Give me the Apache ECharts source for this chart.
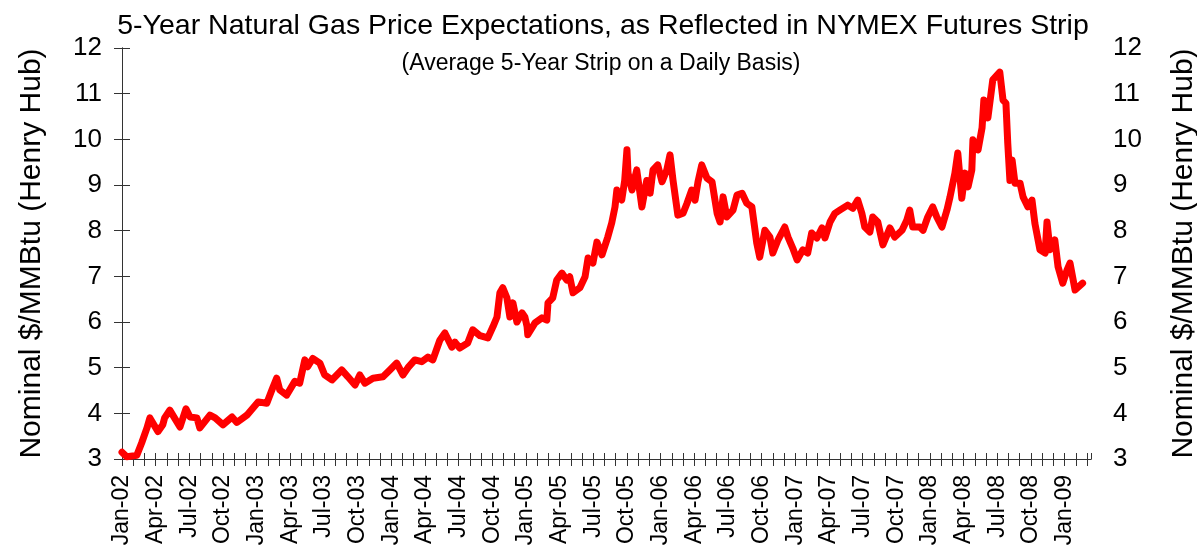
<!DOCTYPE html>
<html>
<head>
<meta charset="utf-8">
<script src="https://cdn.jsdelivr.net/npm/echarts@6/dist/echarts.min.js"></script>
<style>
  html, body { margin: 0; padding: 0; background: #fff; }
  #chart { width: 1197px; height: 548px; }
</style>
</head>
<body>
<div id="chart"></div>
<script>
// 5-year strip (roughly two points a month)
const dates = [
  '2002-01-01','2002-01-14','2002-02-10','2002-02-22','2002-03-08','2002-03-16','2002-04-07','2002-04-20','2002-04-25','2002-05-09',
  '2002-06-06','2002-06-22','2002-07-03','2002-07-22','2002-07-30','2002-08-27','2002-09-10','2002-10-01','2002-10-26','2002-11-08',
  '2002-12-05','2003-01-05','2003-01-29','2003-02-11','2003-02-23','2003-03-03','2003-03-22','2003-04-13','2003-04-26','2003-05-10',
  '2003-05-18','2003-06-01','2003-06-20','2003-07-03','2003-07-23','2003-08-19','2003-09-05','2003-09-24','2003-10-07','2003-10-21',
  '2003-11-12','2003-12-09','2003-12-28','2004-01-16','2004-02-02','2004-02-15','2004-03-04','2004-03-23','2004-04-09','2004-04-22',
  '2004-05-11','2004-05-25','2004-06-13','2004-06-21','2004-07-04','2004-07-26','2004-08-09','2004-08-29','2004-09-19','2004-10-03',
  '2004-10-14','2004-10-22','2004-10-30','2004-11-10','2004-11-18','2004-11-26','2004-12-07','2004-12-21','2004-12-29','2005-01-04',
  '2005-01-06','2005-01-26','2005-02-13','2005-02-25','2005-02-28','2005-03-13','2005-03-24','2005-04-07','2005-04-20','2005-04-28',
  '2005-05-07','2005-05-26','2005-06-09','2005-06-17','2005-06-30','2005-07-11','2005-07-25','2005-08-10','2005-08-21','2005-08-30',
  '2005-09-04','2005-09-17','2005-09-25','2005-10-01','2005-10-04','2005-10-15','2005-10-28','2005-11-11','2005-11-24','2005-12-03',
  '2005-12-11','2005-12-24','2006-01-05','2006-01-18','2006-01-27','2006-02-04','2006-02-16','2006-03-01','2006-03-12','2006-03-25',
  '2006-04-03','2006-04-11','2006-04-21','2006-05-05','2006-05-19','2006-06-02','2006-06-10','2006-06-18','2006-06-28','2006-07-15',
  '2006-07-26','2006-08-09','2006-08-22','2006-09-05','2006-09-18','2006-09-26','2006-10-10','2006-10-24','2006-11-01','2006-11-15',
  '2006-12-03','2006-12-12','2006-12-25','2007-01-06','2007-01-22','2007-02-04','2007-02-14','2007-02-27','2007-03-13','2007-03-21',
  '2007-04-04','2007-04-17','2007-04-30','2007-05-22','2007-06-05','2007-06-18','2007-06-29','2007-07-07','2007-07-21','2007-07-29',
  '2007-08-12','2007-08-26','2007-09-14','2007-09-27','2007-10-17','2007-10-30','2007-11-07','2007-11-15','2007-12-04','2007-12-13',
  '2007-12-26','2008-01-09','2008-01-20','2008-02-03','2008-02-16','2008-02-24','2008-03-08','2008-03-16','2008-03-27','2008-04-05',
  '2008-04-13','2008-04-23','2008-04-26','2008-05-10','2008-05-21','2008-05-26','2008-06-06','2008-06-19','2008-07-08','2008-07-17',
  '2008-07-25','2008-07-30','2008-08-05','2008-08-11','2008-08-19','2008-09-02','2008-09-10','2008-09-23','2008-10-04','2008-10-12',
  '2008-10-26','2008-11-09','2008-11-14','2008-11-22','2008-12-05','2008-12-14','2008-12-27','2009-01-08','2009-01-16','2009-01-30',
  '2009-02-18'
];
const prices = [
  3.15, 3.05, 3.08, 3.35, 3.68, 3.90, 3.60, 3.75, 3.90, 4.07,
  3.70, 4.10, 3.92, 3.90, 3.68, 3.96, 3.90, 3.75, 3.92, 3.80,
  3.96, 4.25, 4.22, 4.51, 4.77, 4.51, 4.40, 4.70, 4.66, 5.17,
  5.02, 5.20, 5.10, 4.84, 4.73, 4.95, 4.80, 4.62, 4.84, 4.66,
  4.77, 4.80, 4.95, 5.10, 4.84, 5.00, 5.17, 5.13, 5.23, 5.17,
  5.60, 5.76, 5.45, 5.56, 5.43, 5.54, 5.83, 5.70, 5.65, 5.90,
  6.11, 6.64, 6.75, 6.53, 6.11, 6.42, 6.00, 6.20, 6.11, 5.90,
  5.72, 5.98, 6.09, 6.04, 6.42, 6.53, 6.92, 7.07, 6.92, 6.99,
  6.64, 6.75, 6.99, 7.40, 7.29, 7.75, 7.47, 7.86, 8.17, 8.52,
  8.89, 8.67, 9.10, 9.77, 9.26, 8.89, 9.33, 8.52, 9.10, 8.82,
  9.33, 9.44, 9.07, 9.33, 9.66, 9.10, 8.34, 8.38, 8.60, 8.89,
  8.67, 9.07, 9.44, 9.15, 9.07, 8.38, 8.19, 8.74, 8.30, 8.45,
  8.78, 8.82, 8.60, 8.52, 7.73, 7.42, 8.01, 7.86, 7.51, 7.80,
  8.08, 7.86, 7.62, 7.36, 7.58, 7.51, 7.95, 7.84, 8.06, 7.84,
  8.19, 8.38, 8.45, 8.56, 8.49, 8.67, 8.38, 8.08, 7.97, 8.30,
  8.19, 7.69, 8.06, 7.86, 8.01, 8.23, 8.45, 8.08, 8.08, 8.01,
  8.30, 8.52, 8.30, 8.08, 8.45, 8.74, 9.26, 9.70, 8.71, 9.26,
  8.96, 9.33, 9.99, 9.77, 10.25, 10.86, 10.47, 11.30, 11.47, 10.86,
  10.79, 9.92, 9.10, 9.55, 9.04, 9.04, 8.74, 8.52, 8.67, 8.16,
  7.58, 7.51, 8.19, 7.58, 7.80, 7.21, 6.85, 7.14, 7.29, 6.70,
  6.85
];
const axisStart = '2002-01-01';
const axisEnd = '2009-03-12';
const quarterNames = ['Jan', 'Apr', 'Jul', 'Oct'];
const yTicks = [3, 4, 5, 6, 7, 8, 9, 10, 11, 12];

const FONT = 'Liberation Sans, Arial, sans-serif';

// months since Jan-02, with the day as a fraction of its month
function monthIndex(s) {
  const [y, m, d] = s.split('-').map(Number);
  const days = new Date(y, m, 0).getDate();
  return (y - 2002) * 12 + (m - 1) + (d - 1) / days;
}

function quarterLabel(v) {
  if (Math.abs(v - Math.round(v)) > 1e-6) return '';
  v = Math.round(v);
  if (v % 3 !== 0) return '';
  const yr = 2 + Math.floor(v / 12);
  return quarterNames[(v % 12) / 3] + '-' + String(yr).padStart(2, '0');
}

const xMin = monthIndex(axisStart);
const xMax = monthIndex(axisEnd);
const seriesData = dates.map((d, i) => [monthIndex(d), prices[i]]);

const chart = echarts.init(document.getElementById('chart'));

const baseX = {
  type: 'value',
  position: 'bottom',
  min: xMin,
  max: xMax,
  interval: 1,
  splitLine: { show: false },
  axisLine: { onZero: false, lineStyle: { color: '#333', width: 1 } }
};

const baseY = {
  type: 'value',
  min: yTicks[0],
  max: yTicks[yTicks.length - 1],
  interval: 1,
  name: 'Nominal $/MMBtu (Henry Hub)',
  nameLocation: 'middle',
  nameRotate: 90,
  nameTextStyle: { fontFamily: FONT, fontSize: 30, color: '#000' },
  splitLine: { show: false },
  axisLine: { show: true, lineStyle: { color: '#333', width: 1 } },
  axisTick: { show: true, length: 8, lineStyle: { color: '#333' } },
  axisLabel: { fontFamily: FONT, fontSize: 26, color: '#000', margin: 20 }
};

chart.setOption({
  animation: false,
  backgroundColor: '#fff',
  title: [
    {
      text: '5-Year Natural Gas Price Expectations, as Reflected in NYMEX Futures Strip',
      left: 598, top: 7, textAlign: 'center',
      textStyle: { fontFamily: FONT, fontSize: 28.5, fontWeight: 'normal', color: '#000' }
    },
    {
      text: '(Average 5-Year Strip on a Daily Basis)',
      left: 596, top: 47, textAlign: 'center',
      textStyle: { fontFamily: FONT, fontSize: 23, fontWeight: 'normal', color: '#000' }
    }
  ],
  grid: {
    left: 122, right: 106, top: 48, bottom: 89,
    containLabel: false, outerBoundsMode: 'none'
  },
  xAxis: [
    Object.assign({}, baseX, {
      axisTick: { show: true, length: 7, lineStyle: { color: '#333' } },
      axisLabel: {
        rotate: 90, margin: 16, fontFamily: FONT, fontSize: 23, color: '#000',
        showMaxLabel: false, formatter: quarterLabel
      }
    }),
    Object.assign({}, baseX, {
      axisTick: { show: true, inside: true, length: 6, lineStyle: { color: '#333' } },
      axisLabel: { show: false }
    })
  ],
  yAxis: [
    Object.assign({}, baseY, { position: 'left', nameGap: 75 }),
    Object.assign({}, baseY, {
      position: 'right', nameGap: 78,
      axisLabel: { fontFamily: FONT, fontSize: 26, color: '#000', margin: 22 }
    })
  ],
  series: [
    {
      type: 'line',
      xAxisIndex: 0,
      yAxisIndex: 0,
      data: seriesData,
      showSymbol: false,
      symbol: 'none',
      lineStyle: { color: '#ff0000', width: 7, cap: 'round', join: 'round' }
    }
  ]
});
</script>
</body>
</html>
